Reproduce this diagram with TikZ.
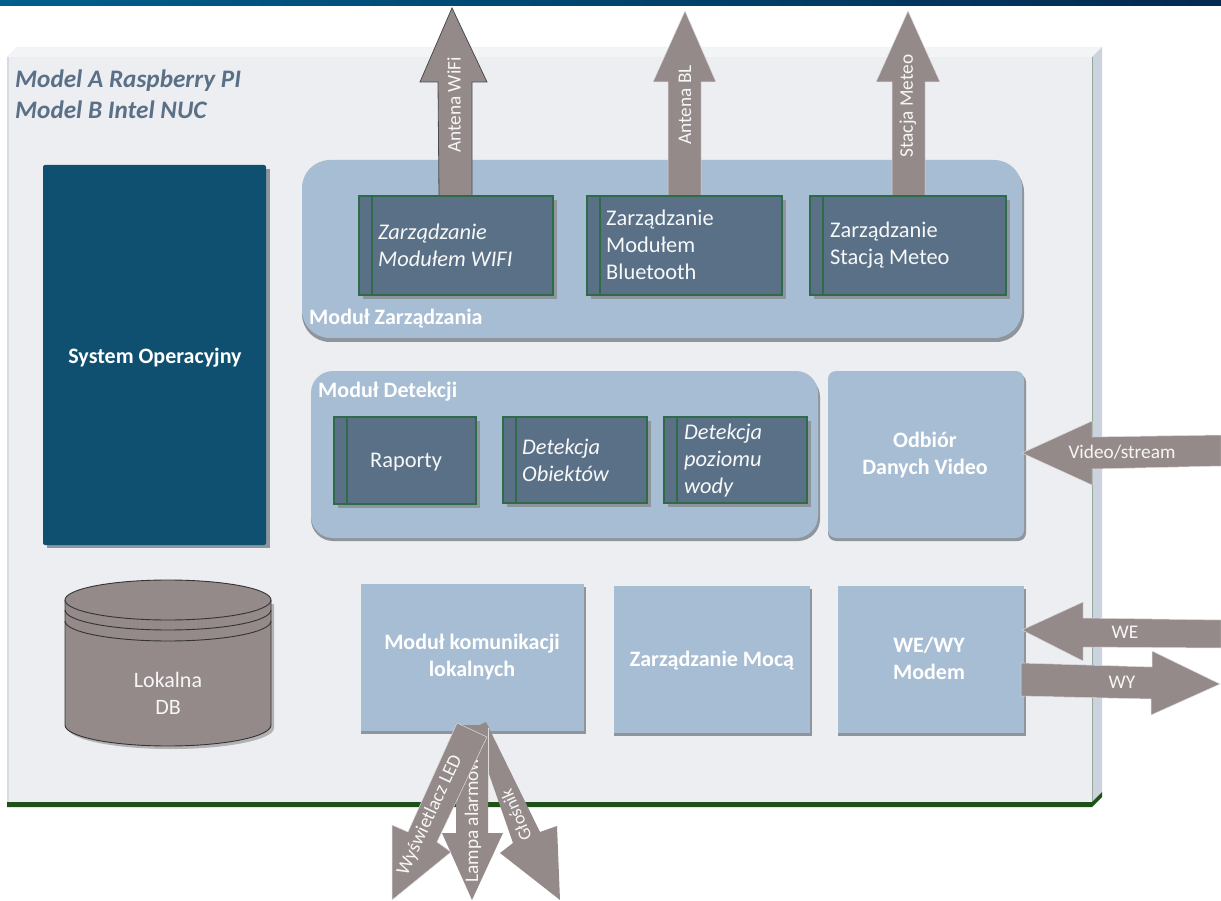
\documentclass[tikz,border=0pt]{standalone}
\usepackage{fontspec}
\setmainfont{Carlito}
\usetikzlibrary{shadings}
\definecolor{board}{HTML}{ECEEF2}
\definecolor{boardtop}{HTML}{F3F4F6}
\definecolor{boardside}{HTML}{CDD3DE}
\definecolor{boardgreen}{HTML}{1E5218}
\definecolor{sysblue}{HTML}{0F5070}
\definecolor{lightblue}{HTML}{A7BDD3}
\definecolor{slate}{HTML}{5A7086}
\definecolor{slateline}{HTML}{2F6B48}
\definecolor{taupe}{HTML}{958A8A}
\definecolor{shadowgrey}{HTML}{8F959C}
\definecolor{titlegrey}{HTML}{5A7086}
\definecolor{barleft}{HTML}{005F8C}
\definecolor{barmid}{HTML}{04406E}
\definecolor{barright}{HTML}{02294F}
\tikzset{
  x=1pt,y=-1pt,
  plate/.style={fill=lightblue,draw=none},
  shade box/.style={fill=shadowgrey,draw=none},
  sub/.style={fill=slate,draw=slateline,line width=1.2pt},
  arrowbody/.style={fill=taupe,draw=white!70!taupe,line width=.5pt},
  cyl/.style={fill=taupe,draw=black!80,line width=.9pt},
  boxtext/.style={font=\fontsize{22}{27}\selectfont\bfseries,text=white,align=center},
  subtext/.style={font=\fontsize{22.4}{27}\selectfont,text=white!95!slate,align=left,anchor=west,inner sep=0pt},
  subitalic/.style={subtext,font=\fontsize{22.4}{27}\selectfont\itshape},
  labeltext/.style={font=\fontsize{19.3}{22}\selectfont,text=white!92!taupe},
  platetitle/.style={font=\fontsize{22}{26}\selectfont\bfseries,text=white,anchor=west,inner sep=0pt},
  maintitle/.style={font=\fontsize{25.2}{31}\selectfont\bfseries\itshape,text=titlegrey,align=left,anchor=north west,inner sep=0pt}
}
\newcommand{\subbox}[4]{%
  \fill[shadowgrey] (#1+4,#2+4) rectangle (#3+4,#4+4);
  \draw[sub] (#1,#2) rectangle (#3,#4);
  \draw[slateline,line width=1.2pt] (#1+13,#2) -- (#1+13,#4);
}
\begin{document}
\begin{tikzpicture}
\useasboundingbox (0,0) rectangle (1221,901);
\fill[white] (0,0) rectangle (1221,901);
% top bar
\shade[left color=barleft,middle color=barmid,right color=barright] (0,0) rectangle (1221,6);

% board
\fill[boardtop] (7,57) -- (17,47) -- (1102,47) -- (1092,57) -- cycle;
\fill[boardside] (1092,57) -- (1102,47) -- (1102,792) -- (1092,802) -- cycle;
\fill[board] (7,57) rectangle (1092,802);
\fill[boardside!70!board] (7,57) rectangle (9,802);
\draw[green!30!black!30!boardside,line width=.6pt] (1092,57) -- (1092,802);
\fill[boardgreen] (7,802) -- (1092,802) -- (1102,792) -- (1102,797) -- (1092,807) -- (7,807) -- cycle;
\node[maintitle] (title) at (15,70) {Model A Raspberry PI\\Model B Intel NUC};

% operating system
\fill[shadowgrey] (47,169) rectangle (270,548);
\fill[sysblue,rounded corners=2pt] (43,165) rectangle (266,545);
\node[boxtext] (sys) at (155,358) {System Operacyjny};

% management module
\fill[shade box,rounded corners=28pt] (302,164) rectangle (1024,342);
\fill[plate,rounded corners=28pt] (302,160) rectangle (1022,338);
\node[platetitle] (mz) at (309,319) {Moduł Zarządzania};

% arrows going up
\draw[arrowbody,draw=black!70,line width=.8pt] (439,196) -- (438,82) -- (420,82) -- (452,8) -- (487,82) -- (472,82) -- (472,196) -- cycle;
\node[labeltext,rotate=90] (awifi) at (454,105) {Antena WiFi};
\draw[arrowbody] (668,196) -- (668,82) -- (653,82) -- (685,11) -- (716,82) -- (701,82) -- (701,196) -- cycle;
\node[labeltext,rotate=90] (abl) at (685,105) {Antena BL};
\draw[arrowbody] (892,196) -- (892,82) -- (876,82) -- (908,11) -- (940,82) -- (925,82) -- (925,196) -- cycle;
\node[labeltext,rotate=90] (ameteo) at (908,106) {Stacja Meteo};

\subbox{359}{196}{553}{295}
\node[subitalic] (wifi) at (378,245) {Zarządzanie\\Modułem WIFI};
\subbox{587}{196}{782}{295}
\node[subtext] (bt) at (606,245) {Zarządzanie\\Modułem\\Bluetooth};
\subbox{810}{196}{1006}{295}
\node[subtext] (st) at (830,245) {Zarządzanie\\Stacją Meteo};

% detection module
\fill[shade box,rounded corners=22pt] (311,375) rectangle (820,541);
\fill[plate,rounded corners=22pt] (311,371) rectangle (818,538);
\node[platetitle] (md) at (318,392) {Moduł Detekcji};
\subbox{334}{417}{476}{504}
\node[subtext] (rap) at (370,462) {Raporty};
\subbox{503}{417}{647}{503}
\node[subitalic] (obj) at (522,460) {Detekcja\\Obiektów};
\subbox{664}{417}{807}{503}
\node[subitalic] (wod) at (684,461) {Detekcja\\poziomu\\wody};

% video
\fill[shade box,rounded corners=8pt] (828,374) rectangle (1026,541);
\fill[plate,rounded corners=8pt] (828,371) rectangle (1024,538);
\node[boxtext] (vid) at (925,455) {Odbiór\\Danych Video};

% lower modules
\fill[shade box] (361,587) rectangle (586,734);
\fill[plate] (361,584) rectangle (584,731);
\node[boxtext] (kom) at (472,657) {Moduł komunikacji\\lokalnych};
\fill[shade box] (614,589) rectangle (812,736);
\fill[plate] (614,586) rectangle (810,733);
\node[boxtext] (moc) at (712,661) {Zarządzanie Mocą};
\fill[shade box] (838,589) rectangle (1026,736);
\fill[plate] (838,586) rectangle (1024,733);
\node[boxtext] (wewy) at (929,658) {WE/WY\\Modem};

% side arrows
\draw[arrowbody] (1022,453) -- (1092,421) -- (1092,437) -- (1221,435) -- (1221,466) -- (1092,469) -- (1092,485) -- cycle;
\node[labeltext] (vs) at (1122,452) {Video/stream};
\draw[arrowbody] (1022,630) -- (1083,602) -- (1083,618) -- (1221,620) -- (1221,648) -- (1083,647) -- (1083,661) -- cycle;
\node[labeltext] (we) at (1125,632) {WE};
\draw[arrowbody] (1021,663) -- (1152,667) -- (1152,651) -- (1220,684) -- (1151,715) -- (1151,699) -- (1021,696) -- cycle;
\node[labeltext] (wy) at (1122,682) {WY};

% database
\fill[black!30] (68,604) -- (68,728) arc[start angle=180,end angle=0,x radius=103,y radius=21] -- (274,604) -- cycle;
\draw[cyl] (65,600) -- (65,725) arc[start angle=180,end angle=0,x radius=103,y radius=21] -- (271,600);
\draw[cyl] (65,600) arc[start angle=180,end angle=-180,x radius=103,y radius=20];
\draw[black!80,line width=.9pt] (65,610) arc[start angle=180,end angle=0,x radius=103,y radius=20];
\draw[black!80,line width=.9pt] (65,621) arc[start angle=180,end angle=0,x radius=103,y radius=20];
\node[labeltext,font=\fontsize{22}{27}\selectfont,align=center] (db) at (168,693) {Lokalna\\DB};

% bottom arrows
\fill[taupe] (486,722) -- (540,832) -- (557,826) -- (560,900) -- (500,853) -- (513,843) -- (473,728) -- cycle;
\node[labeltext,font=\fontsize{18}{22}\selectfont,rotate=113] (glo) at (516,815) {Głośnik};
\fill[taupe] (456,725) -- (488,725) -- (488,833) -- (503,833) -- (472,900) -- (442,833) -- (456,833) -- cycle;
\draw[white!70!taupe,line width=.6pt] (488,728) -- (488,800);
\node[labeltext,rotate=90] (lam) at (473,820) {Lampa alarmów};
\draw[arrowbody] (457,723) -- (487,737) -- (437,842) -- (451,852) -- (392,900) -- (392,825) -- (408,832) -- cycle;
\node[labeltext,rotate=65] (led) at (430,815) {Wyświetlacz LED};
\end{tikzpicture}
\end{document}
